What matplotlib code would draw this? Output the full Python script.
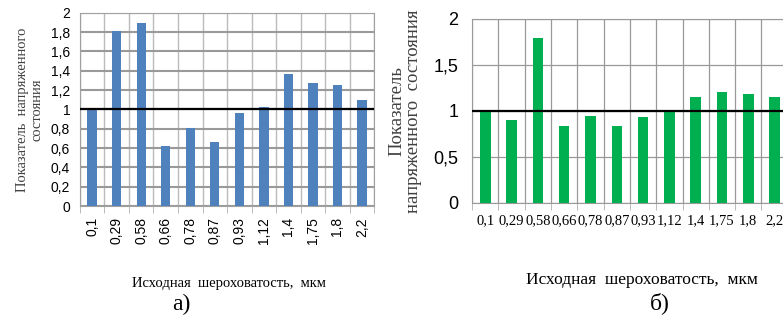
import numpy as np
import matplotlib
matplotlib.use('Agg')
import matplotlib.pyplot as plt

categories = ['0,1', '0,29', '0,58', '0,66', '0,78', '0,87', '0,93', '1,12', '1,4', '1,75', '1,8', '2,2']
values_a = [0.99, 1.81, 1.89, 0.62, 0.81, 0.66, 0.96, 1.03, 1.37, 1.27, 1.25, 1.10]
values_b = [1.0, 0.90, 1.79, 0.84, 0.95, 0.84, 0.935, 0.985, 1.155, 1.205, 1.18, 1.155]
yticks_a = [0, 0.2, 0.4, 0.6, 0.8, 1.0, 1.2, 1.4, 1.6, 1.8, 2.0]
yticks_b = [0, 0.5, 1.0, 1.5, 2.0]
ref_level = 1.0

serif = 'Liberation Serif'
sans = 'Liberation Sans'


def fmt(v):
    s = ('%g' % v).replace('.', ',')
    return s


fig = plt.figure(figsize=(7.83, 3.21), dpi=100)
x = np.arange(len(categories))

# ---- a) ----
ax1 = fig.add_axes([0.102, 0.358, 0.376, 0.602])
ax1.bar(x, values_a, width=0.38, color='#4F81BD', zorder=3)
ax1.axhline(ref_level, color='black', linewidth=1.6, zorder=4)
ax1.set_xlim(-0.5, len(categories) - 0.5)
ax1.set_ylim(0, 2)
ax1.set_yticks(yticks_a)
ax1.set_yticklabels([fmt(v) for v in yticks_a], fontsize=10, family=sans)
ax1.set_xticks(x)
ax1.set_xticklabels(categories, rotation=90, fontsize=10, family=sans)
ax1.set_xticks(np.arange(-0.5, len(categories)), minor=True)
ax1.tick_params(axis='x', which='major', length=0, pad=8)
ax1.tick_params(axis='x', which='minor', length=5, color='#b0b0b0')
ax1.tick_params(axis='y', length=0, pad=7)
ax1.grid(axis='y', color='#999999', linewidth=1.5, zorder=0)
ax1.grid(axis='x', which='minor', color='#bbbbbb', linewidth=1.0, zorder=0)
for s in ax1.spines.values():
    s.set_color('#a0a0a0')
ax1.set_ylabel('Показатель  напряженного\nсостояния', fontsize=10.5, family=serif,
               color='#404040', labelpad=5)
fig.text(0.293, 0.118, 'Исходная  шероховатость,  мкм', ha='center', va='center',
         fontsize=10.5, family=serif)
fig.text(0.232, 0.05, 'а)', ha='center', va='center', fontsize=17, family=serif)

# ---- б) ----
ax2 = fig.add_axes([0.603, 0.368, 0.403, 0.573])
ax2.bar(x, values_b, width=0.4, color='#00B050', zorder=3)
ax2.axhline(ref_level, color='black', linewidth=1.6, zorder=4)
ax2.set_xlim(-0.5, len(categories) - 0.5)
ax2.set_ylim(0, 2)
ax2.set_yticks(yticks_b)
ax2.set_yticklabels([fmt(v) for v in yticks_b], fontsize=13, family=sans)
ax2.set_xticks(x)
ax2.set_xticklabels(categories, fontsize=10.5, family=serif)
ax2.set_xticks(np.arange(-0.5, len(categories)), minor=True)
ax2.tick_params(axis='x', which='major', length=0, pad=8)
ax2.tick_params(axis='x', which='minor', length=5, color='#b0b0b0')
ax2.tick_params(axis='y', length=0, pad=10)
ax2.grid(axis='y', color='#999999', linewidth=0.9, zorder=0)
ax2.grid(axis='x', which='minor', color='#999999', linewidth=0.9, zorder=0)
for s in ax2.spines.values():
    s.set_color('#999999')
ax2.set_ylabel('Показатель\nнапряженного  состояния', fontsize=13.5, family=serif,
               color='#404040', labelpad=8, linespacing=1.0)
fig.text(0.82, 0.128, 'Исходная  шероховатость,  мкм', ha='center', va='center',
         fontsize=12.5, family=serif)
fig.text(0.843, 0.056, 'б)', ha='center', va='center', fontsize=17, family=serif)

fig.savefig('out.png', dpi=100)
